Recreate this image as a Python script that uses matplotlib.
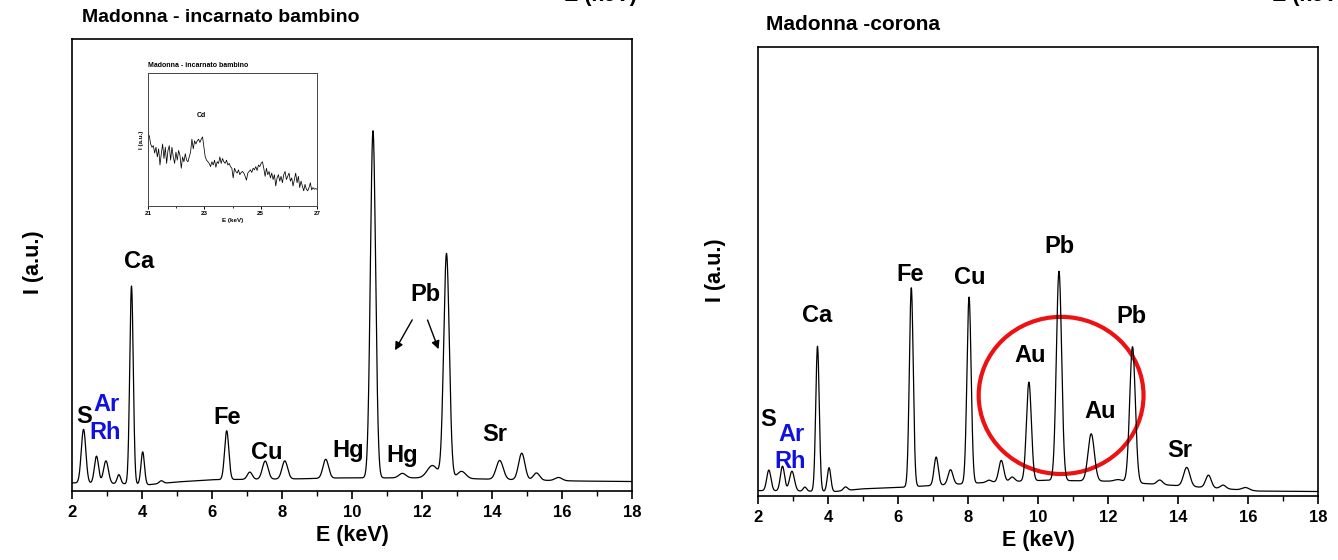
import numpy as np
import matplotlib
matplotlib.use("Agg")
import matplotlib.pyplot as plt
from matplotlib.patches import Ellipse
from matplotlib.ticker import MultipleLocator

plt.rcParams['font.family'] = ['Liberation Sans', 'DejaVu Sans']
plt.rcParams['font.weight'] = 'bold'

# XRF spectrum, "Madonna - incarnato bambino": peak lines (keV), net height, width
left_peak_energy = [2.33, 2.70, 2.97, 3.34, 3.70, 4.02, 4.55, 6.42, 7.08, 7.52,
                    8.08, 9.25, 10.60, 11.44, 12.30, 12.70, 13.13, 14.22, 14.85,
                    15.27, 15.90]
left_peak_height = [11.9, 6.0, 5.0, 2.0, 43.8, 7.2, 0.6, 10.8, 1.6, 4.0,
                    4.0, 4.2, 76.8, 1.0, 2.8, 49.7, 1.6, 4.2, 5.9,
                    1.6, 0.7]
left_peak_sigma = [0.065, 0.06, 0.07, 0.05, 0.05, 0.05, 0.06, 0.06, 0.07, 0.08,
                   0.08, 0.08, 0.075, 0.1, 0.15, 0.08, 0.12, 0.1, 0.09,
                   0.09, 0.1]
left_bg_energy = [2.0, 3.5, 4.2, 5.0, 6.0, 8.5, 9.7, 11.8, 13.5, 14.0, 16.5, 18.0]
left_bg_level = [1.8, 1.6, 1.4, 2.0, 2.5, 2.7, 2.9, 2.9, 2.7, 2.6, 2.2, 2.1]

# XRF spectrum, "Madonna -corona"
right_peak_energy = [2.31, 2.70, 2.97, 3.34, 3.70, 4.03, 4.50, 6.38, 7.09, 7.50,
                     8.03, 8.60, 8.95, 9.26, 9.74, 10.60, 11.52, 12.30, 12.70,
                     13.48, 14.25, 14.87, 15.29, 15.93]
right_peak_height = [4.6, 5.5, 4.4, 0.9, 32.3, 5.3, 0.8, 44.3, 6.3, 3.3,
                     41.5, 0.5, 4.8, 1.0, 22.0, 46.6, 10.5, 0.5, 30.3,
                     1.0, 4.2, 2.8, 0.8, 0.6]
right_peak_sigma = [0.06, 0.06, 0.07, 0.05, 0.05, 0.05, 0.06, 0.055, 0.06, 0.07,
                    0.06, 0.07, 0.07, 0.07, 0.07, 0.075, 0.09, 0.12, 0.08,
                    0.08, 0.09, 0.08, 0.08, 0.1]
right_bg_energy = [2.0, 4.2, 5.0, 6.0, 8.5, 10.2, 12.0, 13.0, 14.0, 16.3, 18.0]
right_bg_level = [1.2, 1.0, 1.6, 1.9, 3.0, 3.5, 3.3, 2.8, 2.3, 1.1, 1.0]

# Inset: high-energy region around the Cd K line
inset_counts = [224, 217, 192, 182, 187, 164, 182, 152, 177, 127, 162, 192, 147,
                182, 132, 172, 187, 142, 182, 152, 132, 167, 142, 172, 157, 117,
                152, 137, 162, 142, 137, 152, 167, 207, 177, 202, 192, 202, 207,
                197, 207, 214, 182, 152, 142, 137, 132, 122, 137, 127, 142, 120,
                137, 132, 152, 132, 147, 137, 132, 142, 127, 132, 122, 117, 87,
                117, 107, 102, 112, 97, 104, 107, 102, 92, 80, 102, 107, 112,
                104, 117, 112, 122, 110, 127, 122, 132, 137, 117, 92, 117, 97,
                107, 87, 102, 82, 97, 62, 87, 97, 77, 92, 72, 97, 107, 82, 92,
                102, 77, 87, 62, 82, 102, 72, 92, 57, 77, 62, 47, 67, 52, 47,
                57, 72, 50, 57, 52, 54, 52]
inset_ticks = [21, 23, 25, 27]

xticks = [2, 4, 6, 8, 10, 12, 14, 16, 18]

W, H = 1338, 560


def spectrum(energy, centers, heights, sigmas, bg_e, bg_v):
    y = np.interp(energy, bg_e, bg_v)
    for c, h, s in zip(centers, heights, sigmas):
        y = y + h * np.exp(-0.5 * ((energy - c) / s) ** 2)
    return y


def style_axis(ax):
    ax.set_xlim(2, 18)
    ax.set_ylim(0, 100)
    ax.set_xticks(xticks)
    ax.xaxis.set_minor_locator(MultipleLocator(1))
    ax.tick_params(axis='x', which='major', direction='out', length=6,
                   width=1.2, labelsize=12, pad=4)
    ax.tick_params(axis='x', which='minor', direction='out', length=3.5,
                   width=1.0)
    ax.set_yticks([])
    for lab in ax.get_xticklabels():
        lab.set_fontweight('bold')
    for sp in ax.spines.values():
        sp.set_linewidth(1.2)
    ax.set_xlabel("E (keV)", fontsize=15.5, fontweight='bold', labelpad=4)


def px_box(x0, y0, x1, y1):
    return [x0 / W, 1 - y1 / H, (x1 - x0) / W, (y1 - y0) / H]


fig = plt.figure(figsize=(W / 100, H / 100), dpi=100)
energy = np.arange(2.0, 18.0001, 0.005)

# left panel
ax1 = fig.add_axes(px_box(72, 39, 632, 491))
ax1.plot(energy, spectrum(energy, left_peak_energy, left_peak_height,
                          left_peak_sigma, left_bg_energy, left_bg_level),
         color='black', lw=0.9)
style_axis(ax1)

lab = dict(fontsize=17, fontweight='bold', ha='center', va='center')
ax1.text(2.36, 16.4, "S", **lab)
ax1.text(2.99, 19.1, "Ar", color='#1010e0', **lab)
ax1.text(2.95, 12.9, "Rh", color='#1010e0', **lab)
ax1.text(3.92, 50.8, "Ca", **lab)
ax1.text(6.44, 16.2, "Fe", **lab)
ax1.text(7.55, 8.6, "Cu", **lab)
ax1.text(9.90, 8.9, "Hg", **lab)
ax1.text(11.44, 7.8, "Hg", **lab)
ax1.text(14.07, 12.4, "Sr", **lab)
ax1.text(12.10, 43.5, "Pb", **lab)
arrow = dict(arrowstyle='-|>', color='black', lw=1.0, mutation_scale=12)
ax1.annotate("", xy=(11.19, 30.6), xytext=(11.76, 38.4), arrowprops=arrow)
ax1.annotate("", xy=(12.50, 30.8), xytext=(12.13, 38.4), arrowprops=arrow)

fig.text(82 / W, 1 - 18 / H, "Madonna - incarnato bambino", fontsize=14,
         fontweight='bold', ha='left', va='center')
fig.text(33 / W, 1 - 262 / H, "I (a.u.)", fontsize=15.5, fontweight='bold',
         rotation=90, ha='center', va='center')

# inset
axi = fig.add_axes(px_box(148, 73, 317, 206))
inset_energy = np.linspace(21, 27, len(inset_counts))
axi.plot(inset_energy, inset_counts, color='black', lw=0.55)
axi.set_xlim(21, 27)
axi.set_ylim(0, 412)
axi.set_xticks(inset_ticks)
axi.xaxis.set_minor_locator(MultipleLocator(1))
axi.set_yticks([])
axi.tick_params(axis='x', which='major', length=2, width=0.7, labelsize=4.5, pad=1.5)
axi.tick_params(axis='x', which='minor', length=1.2, width=0.6)
for sp in axi.spines.values():
    sp.set_linewidth(0.7)
    sp.set_color('#444444')
axi.set_xlabel("E (keV)", fontsize=4.5, fontweight='bold', labelpad=1.5)
axi.set_ylabel("I (a.u.)", fontsize=4.5, fontweight='bold', labelpad=3)
axi.set_title("Madonna - incarnato bambino", fontsize=5, fontweight='bold',
              loc='left', pad=4)
axi.text(22.9, 279, "Cd", fontsize=5, fontweight='bold', ha='center', va='center')

# right panel
ax2 = fig.add_axes(px_box(758, 47, 1318, 496))
ax2.plot(energy, spectrum(energy, right_peak_energy, right_peak_height,
                          right_peak_sigma, right_bg_energy, right_bg_level),
         color='black', lw=0.9)
style_axis(ax2)

ax2.text(2.29, 17.1, "S", **lab)
ax2.text(2.97, 13.6, "Ar", color='#1010e0', **lab)
ax2.text(2.93, 7.6, "Rh", color='#1010e0', **lab)
ax2.text(3.70, 40.3, "Ca", **lab)
ax2.text(6.35, 49.4, "Fe", **lab)
ax2.text(8.05, 48.6, "Cu", **lab)
ax2.text(10.60, 55.5, "Pb", **lab)
ax2.text(12.66, 39.9, "Pb", **lab)
ax2.text(9.77, 31.2, "Au", **lab)
ax2.text(11.77, 18.9, "Au", **lab)
ax2.text(14.06, 10.2, "Sr", **lab)
ax2.add_patch(Ellipse((10.66, 22.4), 4.71, 35.0, fill=False,
                      edgecolor='#ee1111', lw=3.0))

fig.text(766 / W, 1 - 25 / H, "Madonna -corona", fontsize=15,
         fontweight='bold', ha='left', va='center')
fig.text(716 / W, 1 - 270 / H, "I (a.u.)", fontsize=15.5, fontweight='bold',
         rotation=90, ha='center', va='center')

# axis labels of the panels above, cut by the page edge
fig.text(637 / W, 1 - 6 / H, "E (keV)", fontsize=15.5, fontweight='bold',
         ha='right', va='bottom')
fig.text(1272 / W, 1 - 6 / H, "E (keV)", fontsize=15.5, fontweight='bold',
         ha='left', va='bottom')

fig.savefig("out.png", dpi=100)
